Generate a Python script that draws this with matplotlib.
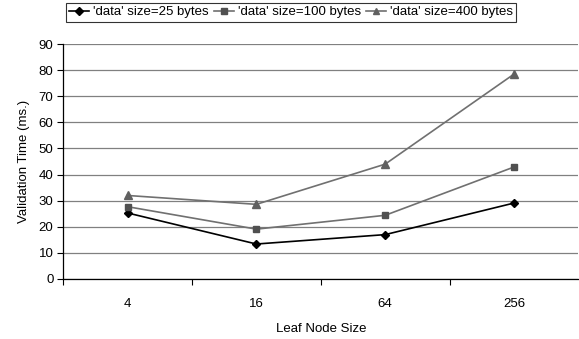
import numpy as np
import matplotlib.pyplot as plt

plt.rcParams['font.family'] = ['Liberation Sans', 'DejaVu Sans']

# Data
leaf_sizes = ['4', '16', '64', '256']
time_25 = [25.3, 13.4, 17.0, 29.1]
time_100 = [27.7, 19.1, 24.4, 42.9]
time_400 = [32.0, 28.6, 44.0, 78.5]
series_labels = ["'data' size=25 bytes", "'data' size=100 bytes", "'data' size=400 bytes"]

fig = plt.figure(figsize=(5.79, 3.39), dpi=100)
ax = fig.add_axes([0.109, 0.177, 0.89, 0.693])

x = np.arange(len(leaf_sizes))
ax.plot(x, time_25, color='black', marker='D', markersize=4.5, linewidth=1.2,
        label=series_labels[0])
ax.plot(x, time_100, color='#707070', marker='s', markersize=5, linewidth=1.2,
        markerfacecolor='#505050', markeredgecolor='#505050', label=series_labels[1])
ax.plot(x, time_400, color='#707070', marker='^', markersize=5.5, linewidth=1.2,
        markerfacecolor='#606060', markeredgecolor='#606060', label=series_labels[2])

ax.set_ylim(0, 90)
ax.set_yticks(np.arange(0, 91, 10))
ax.set_xlim(-0.5, len(leaf_sizes) - 0.5)
ax.set_xticks(x)
ax.set_xticklabels(leaf_sizes)
ax.set_xticks(np.arange(-0.5, len(leaf_sizes) - 0.5, 1), minor=True)
ax.tick_params(axis='x', which='major', length=0, pad=14, labelsize=9.5)
ax.tick_params(axis='x', which='minor', length=4, width=0.8, color='black')
ax.tick_params(axis='y', length=4, width=0.8, labelsize=9.5, pad=3)

ax.grid(axis='y', color='#808080', linewidth=0.9)
ax.set_axisbelow(True)
for s in ['top', 'right']:
    ax.spines[s].set_visible(False)
ax.spines['left'].set_linewidth(0.9)
ax.spines['bottom'].set_linewidth(0.9)

ax.set_ylabel('Validation Time (ms.)', fontsize=9.5, labelpad=6)
ax.set_xlabel('Leaf Node Size', fontsize=9.5, labelpad=9)

leg = fig.legend(loc='center', bbox_to_anchor=(0.503, 0.964), ncol=3, fontsize=9.5,
                 frameon=True, fancybox=False, edgecolor='black', handlelength=1.5,
                 handletextpad=0.3, columnspacing=0.4, borderpad=0.25, markerscale=0.9)
leg.get_frame().set_linewidth(0.8)

fig.savefig('out.png', dpi=100)
